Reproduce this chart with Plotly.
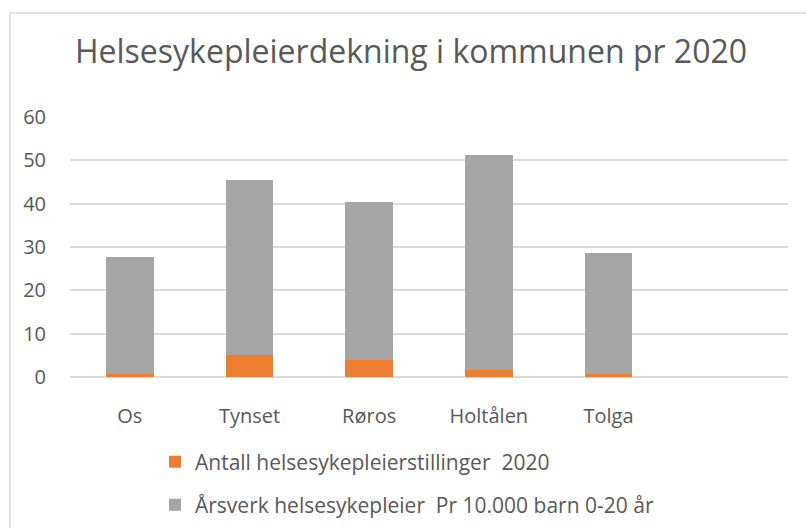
import plotly.graph_objects as go

categories = ["Os", "Tynset", "Røros", "Holtålen", "Tolga"]
stillinger = [0.7, 5.1, 3.9, 1.6, 0.7]
aarsverk = [27.1, 40.3, 36.6, 49.6, 28.0]
y_ticks = [0, 10, 20, 30, 40, 50, 60]

name1 = "Antall helsesykepleierstillinger  2020"
name2 = "Årsverk helsesykepleier  Pr 10.000 barn 0-20 år"

FONT = "Open Sans"
TXT = "#595959"

# plot area in pixels
L, R, T, B = 70, 788, 117, 377
W, H = 806, 528

def px(x):
    return (x - L) / (R - L)

def py(y):
    return (B - y) / (B - T)

fig = go.Figure()
fig.add_trace(go.Bar(x=categories, y=stillinger, name=name1,
                     marker=dict(color="#ed7d31", line=dict(width=0)),
                     legend="legend", showlegend=True))
fig.add_trace(go.Bar(x=categories, y=aarsverk, name=name2,
                     marker=dict(color="#a5a5a5", line=dict(width=0)),
                     legend="legend2", showlegend=True))

fig.update_layout(
    width=W, height=H,
    barmode="stack", bargap=0.6,
    paper_bgcolor="white", plot_bgcolor="white",
    margin=dict(l=L, r=W - R, t=T, b=H - B, pad=0, autoexpand=False),
    font=dict(family=FONT, color=TXT),
    showlegend=True,
    title=dict(text="Helsesykepleierdekning i kommunen pr 2020",
               x=px(411), xref="paper", xanchor="center",
               y=1 - 52 / H, yref="container", yanchor="middle",
               font=dict(size=32, color=TXT, family=FONT)),
    xaxis=dict(range=[-0.5, 5.5], showgrid=False, showline=False,
               zeroline=False, ticks="", tickfont=dict(size=20, color=TXT),
               ticklabelstandoff=25, fixedrange=True, automargin=False),
    yaxis=dict(range=[0, 60], tickvals=y_ticks, showgrid=True,
               gridcolor="#d9d9d9", gridwidth=1.5, zeroline=True,
               zerolinecolor="#d9d9d9", zerolinewidth=1.5,
               showline=False, ticks="", tickfont=dict(size=20, color=TXT),
               ticklabelstandoff=23, automargin=False, fixedrange=True),
    legend=dict(x=px(155), xanchor="left", y=py(462), yanchor="middle",
                font=dict(size=21, color=TXT, family=FONT),
                bgcolor="rgba(0,0,0,0)"),
    legend2=dict(x=px(155), xanchor="left", y=py(505), yanchor="middle",
                 font=dict(size=21, color=TXT, family=FONT),
                 bgcolor="rgba(0,0,0,0)"),
    shapes=[dict(type="rect", xref="paper", yref="paper",
                 x0=px(10), x1=px(812), y0=py(535), y1=py(13),
                 line=dict(color="#d9d9d9", width=1.5),
                 fillcolor="rgba(0,0,0,0)", layer="below")],
)

fig.write_html("out.html", config={"displayModeBar": False},
               post_script="document.body.style.margin='0px';document.body.style.overflow='hidden';")
